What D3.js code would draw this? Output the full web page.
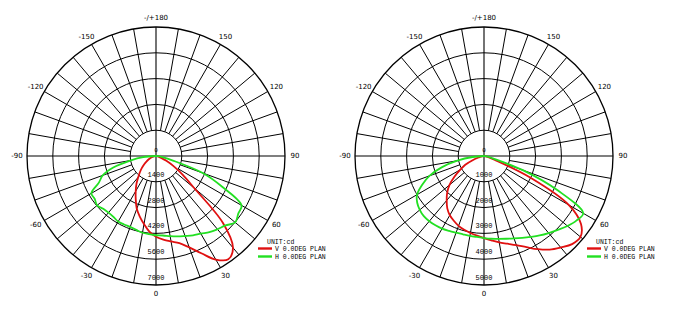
<!DOCTYPE html>
<html>
<head>
<meta charset="utf-8">
<script src="https://cdn.jsdelivr.net/npm/d3@7"></script>
<style>
  html, body { margin: 0; padding: 0; background: #fff; }
  svg { display: block; }
  .ang { font-family: "DejaVu Sans", sans-serif; font-size: 7px; fill: #000; }
  .ring { font-family: "Liberation Mono", monospace; font-size: 7px; fill: #000; }
  .leg { font-family: "Liberation Mono", monospace; font-size: 6.5px; fill: #000; }
</style>
</head>
<body>
<svg id="chart" width="675" height="312"></svg>
<script>
// gamma angles (deg), 0 = straight down, + = right
const angles = [-90, -85, -80, -75, -70, -65, -60, -55, -50, -45, -40, -35, -30, -25, -20, -15, -10, -5,
    0, 5, 10, 15, 20, 25, 30, 35, 40, 45, 50, 55, 60, 65, 70, 75, 80, 85, 90];

// left diagram, cd
const leftV = [0, 50, 110, 200, 320, 450, 600, 780, 1000, 1230, 1500, 1850, 2200, 2600, 3050, 3400, 3750, 4120,
    4380, 4550, 4710, 4900, 5280, 5820, 6490, 6840, 6500, 5140, 2700, 1760, 1100, 620, 300, 170, 90, 40, 0];
const leftH = [0, 700, 1420, 2400, 3080, 3420, 4050, 4060, 4170, 4050, 4010, 4030, 4110, 4100, 4090, 4150, 4230, 4260,
    4300, 4330, 4420, 4520, 4620, 4750, 4860, 5050, 5190, 5330, 5610, 5450, 5360, 3980, 2700, 950, 350, 120, 0];

// right diagram, cd
const rightV = [0, 20, 120, 220, 450, 800, 1060, 1400, 1750, 2020, 2250, 2480, 2650, 2770, 2880, 2960, 3030, 3100,
    3180, 3280, 3400, 3520, 3680, 3900, 4170, 4430, 4630, 4830, 4880, 4590, 3800, 1990, 450, 150, 60, 20, 0];
const rightH = [0, 450, 1050, 1700, 2250, 2650, 3000, 3160, 3250, 3300, 3300, 3280, 3250, 3200, 3160, 3140, 3140, 3150,
    3180, 3220, 3260, 3320, 3400, 3500, 3620, 3760, 3900, 4050, 4220, 4370, 4440, 3150, 1600, 350, 150, 50, 0];

const leftTicks = [1400, 2800, 4200, 5600, 7000];
const rightTicks = [1000, 2000, 3000, 4000, 5000];
const angleLabels = [
    {a: 0, t: '0'}, {a: 30, t: '30'}, {a: 60, t: '60'}, {a: 90, t: '90'}, {a: 120, t: '120'},
    {a: 150, t: '150'}, {a: 180, t: '-/+180'}, {a: -150, t: '-150'}, {a: -120, t: '-120'},
    {a: -90, t: '-90'}, {a: -60, t: '-60'}, {a: -30, t: '-30'}
];
const legendNames = ['V 0.0DEG PLAN', 'H 0.0DEG PLAN'];
const colors = ['#e01010', '#22e022'];

const R = 129;
const svg = d3.select('#chart');

function rad(deg) { return deg * Math.PI / 180; }

function drawPolar(cx, cy, ticks, series, legendX) {
    const g = svg.append('g').attr('transform', 'translate(' + cx + ',' + cy + ')');
    const r = d3.scaleLinear().domain([0, ticks[ticks.length - 1]]).range([0, R]);
    const r0 = r(ticks[0]);

    // spokes every 10 deg, between inner ring and outer ring
    const spokes = d3.range(0, 360, 10).filter(function(a) { return a % 90 !== 0; });
    g.selectAll('line.spoke').data(spokes).enter().append('line')
        .attr('x1', function(a) { return r0 * Math.sin(rad(a)); })
        .attr('y1', function(a) { return r0 * Math.cos(rad(a)); })
        .attr('x2', function(a) { return R * Math.sin(rad(a)); })
        .attr('y2', function(a) { return R * Math.cos(rad(a)); })
        .attr('stroke', '#000').attr('stroke-width', 1);

    // main axes
    g.append('line').attr('x1', -R).attr('x2', R).attr('y1', 0).attr('y2', 0)
        .attr('stroke', '#000').attr('stroke-width', 1.1);
    g.append('line').attr('x1', 0).attr('x2', 0).attr('y1', -R).attr('y2', R)
        .attr('stroke', '#000').attr('stroke-width', 1.1);

    g.selectAll('circle.ring').data(ticks).enter().append('circle')
        .attr('r', function(d) { return r(d); })
        .attr('fill', 'none').attr('stroke', '#000')
        .attr('stroke-width', function(d, i) { return i === ticks.length - 1 ? 1.3 : 1; });

    // curves
    const line = d3.lineRadial()
        .angle(function(d) { return Math.PI - rad(d[0]); })
        .radius(function(d) { return r(d[1]); })
        .curve(d3.curveCatmullRom);

    series.forEach(function(vals, i) {
        const pts = angles.map(function(a, j) { return [a, vals[j]]; });
        g.append('path').datum(pts)
            .attr('d', line)
            .attr('fill', 'none')
            .attr('stroke', colors[i])
            .attr('stroke-width', 1.8)
            .attr('stroke-linejoin', 'round');
    });

    // ring values along the vertical axis
    g.selectAll('text.ring').data(ticks).enter().append('text')
        .attr('class', 'ring')
        .attr('x', 0)
        .attr('y', function(d) { return r(d) - 5; })
        .attr('text-anchor', 'middle')
        .text(function(d) { return d; });

    g.append('text').attr('class', 'ring').attr('x', 0).attr('y', -4)
        .attr('text-anchor', 'middle').style('font-size', '6px').text('0');

    // angle labels
    g.selectAll('text.ang').data(angleLabels).enter().append('text')
        .attr('class', 'ang')
        .attr('x', function(d) { return 139 * Math.sin(rad(d.a)); })
        .attr('y', function(d) { return 138 * Math.cos(rad(d.a)); })
        .attr('text-anchor', 'middle')
        .attr('dominant-baseline', 'central')
        .text(function(d) { return d.t; });

    // legend
    const lg = svg.append('g').attr('transform', 'translate(' + legendX + ',241)');
    lg.append('text').attr('class', 'leg').attr('x', 9).attr('y', 2.5).text('UNIT:cd');
    legendNames.forEach(function(name, i) {
        lg.append('line').attr('x1', 0).attr('x2', 14)
            .attr('y1', 7.5 + i * 8).attr('y2', 7.5 + i * 8)
            .attr('stroke', colors[i]).attr('stroke-width', 2.4);
        lg.append('text').attr('class', 'leg').attr('x', 17).attr('y', 10 + i * 8).text(name);
    });
}

drawPolar(156, 156, leftTicks, [leftV, leftH], 258);
drawPolar(484, 156, rightTicks, [rightV, rightH], 587);
</script>
</body>
</html>
